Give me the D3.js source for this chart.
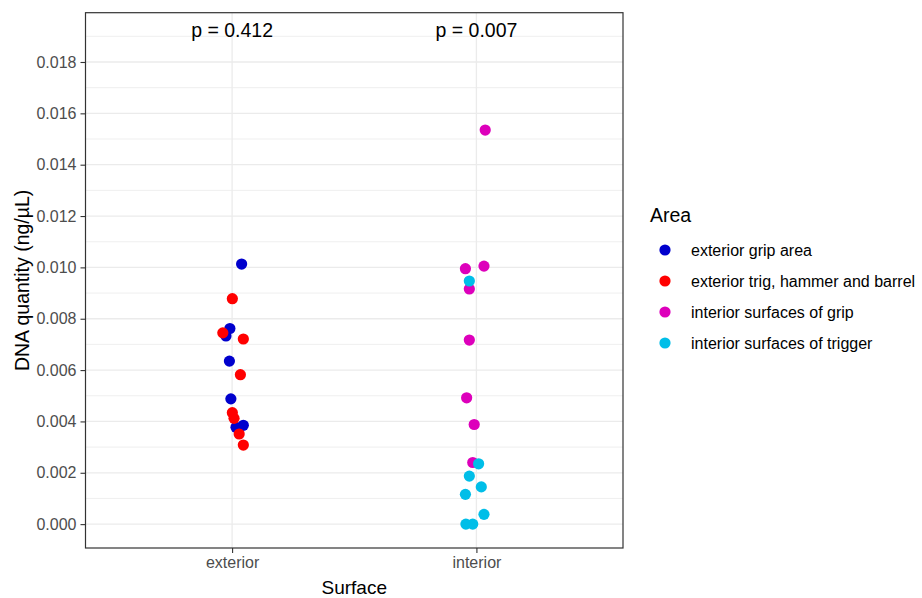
<!DOCTYPE html>
<html>
<head>
<meta charset="utf-8">
<script src="https://cdn.jsdelivr.net/npm/d3@7"></script>
<style>
  body { margin: 0; background: #fff; }
  svg text { font-family: "Liberation Sans", Arial, sans-serif; }
</style>
</head>
<body>
<svg id="chart" width="922" height="598"></svg>
<script>
// Surfaces along the x axis
const surfaces = ["exterior", "interior"];

// Sampling areas and their colours
const areas = ["exterior grip area", "exterior trig, hammer and barrel",
               "interior surfaces of grip", "interior surfaces of trigger"];
const areaColors = ["#0000CD", "#FF0000", "#DD00BB", "#00BEE8"];

// DNA quantity (ng/µL) per swab, with the horizontal jitter (category units)
const gripValues    = [0.01013, 0.00762, 0.00733, 0.00635, 0.00488, 0.00385, 0.00377];
const gripJitter    = [0.039, -0.009, -0.025, -0.011, -0.005, 0.046, 0.016];
const trigValues    = [0.00878, 0.00745, 0.00721, 0.00582, 0.00434, 0.00412, 0.00351, 0.00308];
const trigJitter    = [0.001, -0.038, 0.046, 0.034, 0.001, 0.008, 0.029, 0.046];
const inGripValues  = [0.01535, 0.00995, 0.01005, 0.00916, 0.00717, 0.00492, 0.00388, 0.00240];
const inGripJitter  = [0.036, -0.045, 0.031, -0.029, -0.029, -0.040, -0.009, -0.015];
const inTrigValues  = [0.00947, 0.00235, 0.00187, 0.00145, 0.00116, 0.00038, 0.0, 0.0];
const inTrigJitter  = [-0.029, 0.009, -0.029, 0.020, -0.045, 0.031, -0.043, -0.015];

// Group comparison p-values shown above each surface
const pLabels = ["p = 0.412", "p = 0.007"];
const pLabelY = 0.01925;

// Y axis ticks
const yMajor = [0, 0.002, 0.004, 0.006, 0.008, 0.010, 0.012, 0.014, 0.016, 0.018];
const yMinor = [0.001, 0.003, 0.005, 0.007, 0.009, 0.011, 0.013, 0.015, 0.017, 0.019];

const groups = [
  { area: 0, surface: 0, values: gripValues,   jitter: gripJitter },
  { area: 1, surface: 0, values: trigValues,   jitter: trigJitter },
  { area: 2, surface: 1, values: inGripValues, jitter: inGripJitter },
  { area: 3, surface: 1, values: inTrigValues, jitter: inTrigJitter }
];
const points = groups.flatMap(g => g.values.map((v, i) => ({
  area: g.area, surface: g.surface, value: v, dx: g.jitter[i]
})));

const svg = d3.select("#chart");
const panel = { left: 85.5, right: 623, top: 12.7, bottom: 548 };

// discrete x positions 1..n, expanded by 0.6 on each side
const x = d3.scaleLinear().domain([0.4, surfaces.length + 0.6]).range([panel.left, panel.right]);
const y = d3.scaleLinear().domain([-0.00093, 0.01992]).range([panel.bottom, panel.top]);

// grid
const grid = svg.append("g");
grid.selectAll("line.minor").data(yMinor.filter(v => y(v) > panel.top)).join("line")
  .attr("x1", panel.left).attr("x2", panel.right)
  .attr("y1", d => y(d)).attr("y2", d => y(d))
  .attr("stroke", "#EBEBEB").attr("stroke-width", 0.8);
grid.selectAll("line.major").data(yMajor).join("line")
  .attr("x1", panel.left).attr("x2", panel.right)
  .attr("y1", d => y(d)).attr("y2", d => y(d))
  .attr("stroke", "#EBEBEB").attr("stroke-width", 1.3);
grid.selectAll("line.vx").data(surfaces).join("line")
  .attr("x1", (d, i) => x(i + 1)).attr("x2", (d, i) => x(i + 1))
  .attr("y1", panel.top).attr("y2", panel.bottom)
  .attr("stroke", "#EBEBEB").attr("stroke-width", 1.3);

// points
svg.append("g").selectAll("circle").data(points).join("circle")
  .attr("cx", d => x(d.surface + 1 + d.dx))
  .attr("cy", d => y(d.value))
  .attr("r", 5.6)
  .attr("fill", d => areaColors[d.area]);

// p-value annotations
svg.append("g").selectAll("text").data(pLabels).join("text")
  .attr("x", (d, i) => x(i + 1))
  .attr("y", y(pLabelY))
  .attr("text-anchor", "middle")
  .attr("dominant-baseline", "central")
  .attr("font-size", 19.5)
  .attr("fill", "#000")
  .text(d => d);

// panel border
svg.append("rect")
  .attr("x", panel.left).attr("y", panel.top)
  .attr("width", panel.right - panel.left).attr("height", panel.bottom - panel.top)
  .attr("fill", "none").attr("stroke", "#333").attr("stroke-width", 1.2);

// y axis
const yAxis = svg.append("g").attr("transform", `translate(${panel.left},0)`)
  .call(d3.axisLeft(y).tickValues(yMajor).tickFormat(d3.format(".3f")).tickSize(5).tickPadding(4));
yAxis.select(".domain").remove();
yAxis.selectAll(".tick line").attr("stroke", "#333").attr("stroke-width", 1.1);
yAxis.selectAll(".tick text").attr("fill", "#4D4D4D").attr("font-size", 16)
  .attr("font-family", "Liberation Sans, Arial, sans-serif");

// x axis
const xAxis = svg.append("g").attr("transform", `translate(0,${panel.bottom})`)
  .call(d3.axisBottom(x).tickValues(surfaces.map((d, i) => i + 1))
    .tickFormat((d, i) => surfaces[i]).tickSize(5).tickPadding(4));
xAxis.select(".domain").remove();
xAxis.selectAll(".tick line").attr("stroke", "#333").attr("stroke-width", 1.1);
xAxis.selectAll(".tick text").attr("fill", "#4D4D4D").attr("font-size", 16)
  .attr("font-family", "Liberation Sans, Arial, sans-serif");

// axis titles
svg.append("text")
  .attr("x", (panel.left + panel.right) / 2).attr("y", 587)
  .attr("text-anchor", "middle").attr("dominant-baseline", "central")
  .attr("font-size", 19).attr("fill", "#000").text("Surface");
svg.append("text")
  .attr("transform", `translate(22,${(panel.top + panel.bottom) / 2}) rotate(-90)`)
  .attr("text-anchor", "middle").attr("dominant-baseline", "central")
  .attr("font-size", 19.5).attr("fill", "#000").text("DNA quantity (ng/µL)");

// legend
const legend = svg.append("g").attr("transform", "translate(650,0)");
legend.append("text").attr("x", 0).attr("y", 215)
  .attr("dominant-baseline", "central").attr("font-size", 19.5).attr("fill", "#000").text("Area");
const items = legend.selectAll("g.item").data(areas).join("g")
  .attr("transform", (d, i) => `translate(0,${250 + i * 31})`);
items.append("circle").attr("cx", 15).attr("cy", 0).attr("r", 5.6)
  .attr("fill", (d, i) => areaColors[i]);
items.append("text").attr("x", 41).attr("y", 0)
  .attr("dominant-baseline", "central").attr("font-size", 16).attr("fill", "#000")
  .text(d => d);
</script>
</body>
</html>
